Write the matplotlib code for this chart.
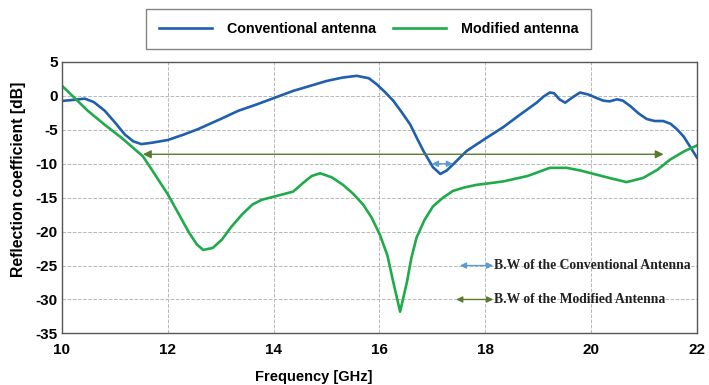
import numpy as np
import matplotlib
matplotlib.use('Agg')
from matplotlib import pyplot as plt

# conventional antenna (blue)
freq_conv = [10.0, 10.2, 10.43, 10.6, 10.81, 11.0, 11.19, 11.35, 11.5, 11.7, 12.0, 12.3, 12.57, 13.0,
             13.33, 13.7, 14.03, 14.37, 14.7, 15.0, 15.3, 15.57, 15.8, 15.95, 16.1, 16.26, 16.42, 16.58,
             16.7, 16.83, 16.92, 17.01, 17.15, 17.27, 17.39, 17.52, 17.65, 18.0, 18.34, 18.65, 18.97,
             19.1, 19.22, 19.3, 19.4, 19.51, 19.65, 19.79, 19.95, 20.1, 20.23, 20.35, 20.49, 20.6,
             20.74, 20.9, 21.05, 21.2, 21.36, 21.5, 21.62, 21.75, 21.88, 22.0]
s11_conv = [-0.74, -0.6, -0.4, -0.9, -2.2, -3.9, -5.7, -6.7, -7.1, -6.9, -6.5, -5.7, -4.9, -3.4,
            -2.2, -1.2, -0.24, 0.74, 1.5, 2.2, 2.7, 2.96, 2.6, 1.7, 0.6, -0.7, -2.4, -4.2,
            -6.1, -8.1, -9.3, -10.5, -11.5, -11.0, -10.1, -9.1, -8.1, -6.3, -4.6, -2.8, -1.0,
            -0.1, 0.5, 0.4, -0.5, -1.0, -0.2, 0.5, 0.2, -0.3, -0.7, -0.8, -0.5, -0.7,
            -1.5, -2.6, -3.4, -3.7, -3.7, -4.1, -4.9, -6.0, -7.6, -9.1]

# modified antenna (green)
freq_mod = [10.0, 10.49, 10.8, 11.13, 11.53, 11.75, 12.0, 12.2, 12.39, 12.55, 12.67, 12.85, 13.02,
            13.2, 13.4, 13.6, 13.78, 14.03, 14.37, 14.56, 14.72, 14.88, 15.1, 15.31, 15.5, 15.69,
            15.85, 16.01, 16.15, 16.26, 16.39, 16.52, 16.6, 16.7, 16.85, 17.01, 17.2, 17.39, 17.6,
            17.84, 18.05, 18.34, 18.8, 19.22, 19.54, 19.8, 20.1, 20.4, 20.67, 20.98, 21.25, 21.49,
            21.75, 22.0]
s11_mod = [1.5, -2.2, -4.2, -6.2, -8.9, -11.5, -14.5, -17.3, -20.0, -21.9, -22.7, -22.4, -21.2,
           -19.3, -17.5, -16.0, -15.3, -14.8, -14.1, -12.8, -11.8, -11.4, -12.0, -13.1, -14.4, -16.0,
           -17.9, -20.5, -23.5, -27.4, -31.8, -27.4, -24.0, -20.9, -18.3, -16.3, -15.0, -14.0, -13.5,
           -13.1, -12.9, -12.6, -11.8, -10.6, -10.6, -11.0, -11.6, -12.2, -12.7, -12.1, -10.9, -9.4,
           -8.2, -7.3]

# bandwidth arrows (start, end, level)
bw_mod = [11.53, 21.37, -8.6]
bw_conv = [16.99, 17.39, -10.0]

blue = '#1f5fae'
green = '#1fab4a'
bw_blue = '#5b9bd5'
bw_green = '#5a7a2e'

plt.rcParams['font.family'] = ['Liberation Sans', 'DejaVu Sans']
plt.rcParams['axes.unicode_minus'] = False

fig = plt.figure(figsize=(7.09, 3.85), dpi=100)
ax = fig.add_axes([0.0874, 0.134, 0.8956, 0.705])

l1, = ax.plot(freq_conv, s11_conv, color=blue, lw=1.9, label='Conventional antenna')
l2, = ax.plot(freq_mod, s11_mod, color=green, lw=1.9, label='Modified antenna')

# bandwidth arrows
ax.annotate('', xy=(bw_mod[0], bw_mod[2]), xytext=(bw_mod[1], bw_mod[2]),
            arrowprops=dict(arrowstyle='<|-|>', color=bw_green, lw=1.0, mutation_scale=12,
                            shrinkA=0, shrinkB=0))
ax.annotate('', xy=(bw_conv[0], bw_conv[2]), xytext=(bw_conv[1], bw_conv[2]),
            arrowprops=dict(arrowstyle='<|-|>', color=bw_blue, lw=1.0, mutation_scale=9,
                            shrinkA=0, shrinkB=0))

# arrow key inside the plot
ax.annotate('', xy=(17.52, -25), xytext=(18.15, -25),
            arrowprops=dict(arrowstyle='<|-|>', color=bw_blue, lw=1.0, mutation_scale=9,
                            shrinkA=0, shrinkB=0))
ax.annotate('', xy=(17.45, -30), xytext=(18.15, -30),
            arrowprops=dict(arrowstyle='<|-|>', color=bw_green, lw=1.0, mutation_scale=9,
                            shrinkA=0, shrinkB=0))
serif = ['Liberation Serif', 'DejaVu Serif']
ax.text(18.17, -25, 'B.W of the Conventional Antenna', family=serif,
        fontsize=9.8, fontweight='bold', color='#222222', va='center', ha='left')
ax.text(18.17, -30, 'B.W of the Modified Antenna', family=serif,
        fontsize=9.8, fontweight='bold', color='#222222', va='center', ha='left')

ax.set_xlim(10, 22)
ax.set_ylim(-35, 5)
ax.set_xticks(np.arange(10, 23, 2))
ax.set_yticks(np.arange(-35, 6, 5))
ax.tick_params(axis='x', length=0, labelsize=11, pad=7)
ax.tick_params(axis='y', length=0, labelsize=11, pad=3)
for lab in ax.get_xticklabels() + ax.get_yticklabels():
    lab.set_fontweight('bold')
ax.grid(True, ls='--', color='#b8b8b8', lw=0.7)
for sp in ax.spines.values():
    sp.set_color('#555555')
    sp.set_linewidth(1.0)

ax.set_xlabel('Frequency [GHz]', fontsize=10.5, fontweight='bold')
ax.set_ylabel('Reflection coefficient [dB]', fontsize=11.3, fontweight='bold')
ax.xaxis.set_label_coords(0.397, -0.135)
ax.yaxis.set_label_coords(-0.057, 0.567)

leg = fig.legend(handles=[l1, l2], loc='center', bbox_to_anchor=(0.52, 0.924), ncol=2,
                 frameon=True, fancybox=False, edgecolor='#666666', fontsize=10.3,
                 handlelength=3.7, columnspacing=1.2, borderpad=0.9, handletextpad=1.05)
for t in leg.get_texts():
    t.set_fontweight('bold')
leg.get_frame().set_linewidth(1.0)

fig.savefig('out.png', dpi=100)
